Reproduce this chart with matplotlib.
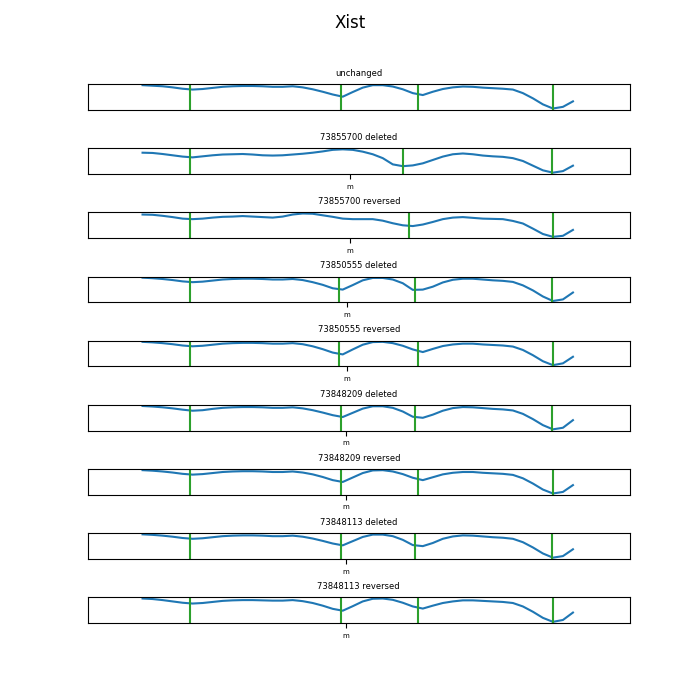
import numpy as np
import matplotlib
matplotlib.use("Agg")
import matplotlib.pyplot as plt

# positions des bins (pb), un point tous les 20 kb
positions = np.arange(73442000, 74302000 + 1, 20000)

# sites modifiés et type de modification
sites = [None, 73855700, 73855700, 73850555, 73850555, 73848209, 73848209, 73848113, 73848113]
modifs = ["unchanged", "deleted", "reversed", "deleted", "reversed", "deleted", "reversed", "deleted", "reversed"]

# scores d'insulation
score_unchanged = [-0.06, -0.08, -0.10, -0.14, -0.19, -0.22, -0.20, -0.16, -0.12, -0.10, -0.09, -0.09, -0.10, -0.12, -0.12,
                   -0.10, -0.14, -0.21, -0.30, -0.40, -0.48, -0.31, -0.15, -0.06, -0.06, -0.11, -0.21, -0.35, -0.42, -0.30,
                   -0.20, -0.14, -0.11, -0.12, -0.15, -0.17, -0.19, -0.22, -0.35, -0.54, -0.76, -0.91, -0.85, -0.65]
score_55700_del = [-0.17, -0.18, -0.22, -0.27, -0.32, -0.35, -0.31, -0.27, -0.24, -0.23, -0.22, -0.24, -0.27, -0.28, -0.27,
                   -0.24, -0.21, -0.17, -0.12, -0.06, -0.04, -0.06, -0.13, -0.23, -0.38, -0.62, -0.69, -0.66, -0.58, -0.45,
                   -0.32, -0.23, -0.20, -0.23, -0.28, -0.31, -0.33, -0.38, -0.49, -0.67, -0.85, -0.94, -0.88, -0.67]
score_55700_rev = [-0.08, -0.09, -0.13, -0.18, -0.24, -0.26, -0.24, -0.20, -0.17, -0.16, -0.14, -0.16, -0.18, -0.20, -0.16,
                   -0.08, -0.04, -0.05, -0.11, -0.17, -0.24, -0.26, -0.26, -0.26, -0.32, -0.42, -0.50, -0.53, -0.47, -0.37,
                   -0.26, -0.20, -0.18, -0.21, -0.24, -0.25, -0.26, -0.33, -0.43, -0.63, -0.84, -0.95, -0.91, -0.68]
score_50555_del = [-0.04, -0.06, -0.09, -0.13, -0.18, -0.21, -0.19, -0.15, -0.11, -0.09, -0.08, -0.08, -0.09, -0.11, -0.11,
                   -0.09, -0.13, -0.21, -0.31, -0.44, -0.49, -0.32, -0.14, -0.05, -0.05, -0.11, -0.25, -0.50, -0.49, -0.38,
                   -0.22, -0.12, -0.08, -0.08, -0.11, -0.14, -0.16, -0.20, -0.33, -0.52, -0.75, -0.92, -0.86, -0.60]
score_50555_rev = [-0.05, -0.07, -0.10, -0.14, -0.19, -0.22, -0.20, -0.16, -0.12, -0.10, -0.09, -0.09, -0.10, -0.12, -0.12,
                   -0.10, -0.14, -0.22, -0.33, -0.46, -0.53, -0.34, -0.16, -0.06, -0.05, -0.10, -0.20, -0.34, -0.44, -0.32,
                   -0.21, -0.15, -0.12, -0.12, -0.15, -0.17, -0.19, -0.23, -0.36, -0.56, -0.79, -0.94, -0.87, -0.62]
score_48209_del = [-0.04, -0.06, -0.09, -0.13, -0.18, -0.22, -0.20, -0.15, -0.11, -0.09, -0.08, -0.08, -0.09, -0.11, -0.11,
                   -0.09, -0.13, -0.20, -0.29, -0.39, -0.46, -0.30, -0.14, -0.05, -0.05, -0.11, -0.25, -0.45, -0.49, -0.37,
                   -0.22, -0.12, -0.08, -0.09, -0.12, -0.15, -0.17, -0.21, -0.34, -0.54, -0.77, -0.93, -0.87, -0.58]
score_48209_rev = [-0.05, -0.07, -0.10, -0.14, -0.19, -0.22, -0.20, -0.16, -0.12, -0.10, -0.09, -0.09, -0.10, -0.12, -0.12,
                   -0.10, -0.14, -0.21, -0.31, -0.43, -0.50, -0.33, -0.16, -0.06, -0.05, -0.10, -0.20, -0.34, -0.43, -0.32,
                   -0.21, -0.15, -0.12, -0.12, -0.15, -0.17, -0.19, -0.23, -0.36, -0.56, -0.79, -0.94, -0.88, -0.62]
score_48113_del = [-0.05, -0.07, -0.10, -0.14, -0.19, -0.22, -0.20, -0.16, -0.12, -0.10, -0.09, -0.09, -0.10, -0.12, -0.12,
                   -0.10, -0.14, -0.21, -0.30, -0.40, -0.47, -0.31, -0.15, -0.06, -0.06, -0.12, -0.26, -0.46, -0.50, -0.38,
                   -0.22, -0.13, -0.09, -0.10, -0.13, -0.16, -0.18, -0.22, -0.35, -0.55, -0.78, -0.94, -0.88, -0.62]
score_48113_rev = [-0.05, -0.07, -0.11, -0.16, -0.21, -0.24, -0.22, -0.18, -0.14, -0.12, -0.11, -0.11, -0.12, -0.13, -0.13,
                   -0.11, -0.15, -0.22, -0.32, -0.44, -0.51, -0.34, -0.16, -0.06, -0.05, -0.10, -0.21, -0.35, -0.43, -0.32,
                   -0.22, -0.16, -0.12, -0.12, -0.14, -0.16, -0.18, -0.22, -0.35, -0.55, -0.78, -0.93, -0.86, -0.58]

scores = [score_unchanged, score_55700_del, score_55700_rev, score_50555_del, score_50555_rev,
          score_48209_del, score_48209_rev, score_48113_del, score_48113_rev]

# frontières des TADs (pb)
frontieres = [
    [73536000, 73838000, 73993000, 74263000],
    [73536000, 73962000, 74260000],
    [73536000, 73975000, 74263000],
    [73536000, 73835000, 73987000, 74260000],
    [73536000, 73835000, 73993000, 74263000],
    [73536000, 73838000, 73987000, 74260000],
    [73536000, 73838000, 73993000, 74263000],
    [73536000, 73838000, 73987000, 74260000],
    [73536000, 73838000, 73993000, 74263000],
]

fig, axes = plt.subplots(9, 1, figsize=(7, 7))
fig.subplots_adjust(hspace=1.5)
fig.suptitle("Xist")

for i, ax in enumerate(axes):
    ax.plot(positions, scores[i], color="tab:blue")
    for f in frontieres[i]:
        ax.axvline(f, color="tab:green")
    ax.set_xlim(73332000, 74416000)
    ax.set_yticks([])
    if sites[i] is None:
        ax.set_title(modifs[i], fontsize=6)
        ax.set_xticks([])
    else:
        ax.set_title(f"{sites[i]} {modifs[i]}", fontsize=6)
        ax.set_xticks([sites[i]])
        ax.set_xticklabels(["m"], fontsize=5)

plt.savefig("out.png", dpi=100)
